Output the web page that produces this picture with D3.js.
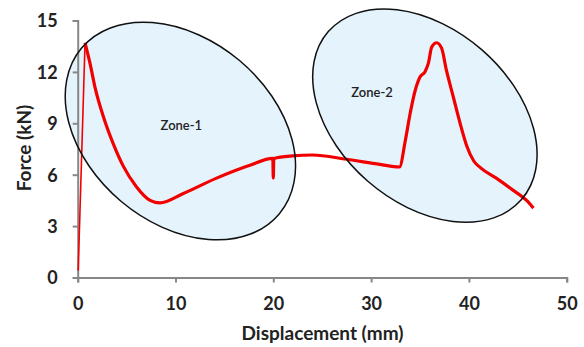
<!DOCTYPE html>
<html>
<head>
<meta charset="utf-8">
<script src="https://cdn.jsdelivr.net/npm/d3@7"></script>
<style>
  html, body { margin: 0; padding: 0; background: #fff; }
  svg text { font-family: Lato, "Open Sans", sans-serif; }
</style>
</head>
<body>
<svg id="chart" width="584" height="347"></svg>
<script>
// Load–displacement record (mm, kN)
const displacement = [0.05, 0.75, 1.26, 1.77, 2.62, 3.64, 4.66, 6.0, 7.4, 8.4, 10.8, 14.2, 17.6, 19.95, 20.0, 20.05, 22.0, 24.0, 27.5, 30.9, 32.9, 33.5, 34.0, 34.5, 35.0, 35.5, 35.85, 36.2, 36.7, 37.2, 37.7, 38.4, 39.1, 39.8, 40.5, 41.2, 42.8, 44.5, 45.9, 46.6];
const force        = [0.4, 13.7, 12.5, 11.1, 9.4, 7.8, 6.5, 5.3, 4.5, 4.35, 4.9, 5.8, 6.55, 6.95, 5.8, 6.95, 7.1, 7.15, 6.9, 6.6, 6.45, 8.0, 9.6, 10.9, 11.7, 12.0, 12.5, 13.45, 13.7, 13.4, 12.1, 10.55, 9.0, 7.65, 6.8, 6.4, 5.8, 5.1, 4.5, 4.05];

const xTicks = [0, 10, 20, 30, 40, 50];
const yTicks = [0, 3, 6, 9, 12, 15];

// Highlighted zones: centre (mm, kN), semi-axes (px), tilt (deg)
const zoneLabels = ["Zone-1", "Zone-2"];
const zoneCx = [10.5, 35.5];
const zoneCy = [8.55, 9.45];
const zoneRx = [129, 128];
const zoneRy = [92, 87];
const zoneTilt = [40, 41];
const labelX = [10.6, 30.1];
const labelY = [8.8, 10.7];

const svg = d3.select("#chart");
const x = d3.scaleLinear().domain([0, 50]).range([77.7, 566.7]);
const y = d3.scaleLinear().domain([0, 15]).range([277.5, 20.5]);

// zone fills
const zones = svg.append("g");
zoneLabels.forEach((name, i) => {
  zones.append("ellipse")
    .attr("cx", 0).attr("cy", 0)
    .attr("rx", zoneRx[i]).attr("ry", zoneRy[i])
    .attr("transform", `translate(${x(zoneCx[i])},${y(zoneCy[i])}) rotate(${zoneTilt[i]})`)
    .attr("fill", "#e5f4fc");
});

// axes
const axisColor = "#878787";
const xAxis = svg.append("g").attr("transform", `translate(0,${y(0)})`)
  .call(d3.axisBottom(x).tickValues(xTicks).tickSize(5).tickSizeOuter(5));
const yAxis = svg.append("g").attr("transform", `translate(${x(0)},0)`)
  .call(d3.axisLeft(y).tickValues(yTicks).tickSize(5).tickSizeOuter(5));
[xAxis, yAxis].forEach(g => {
  g.select(".domain").attr("stroke", axisColor).attr("stroke-width", 2);
  g.selectAll(".tick line").attr("stroke", axisColor).attr("stroke-width", 2);
  g.selectAll(".tick text")
    .attr("fill", "#222").attr("font-size", 18).attr("font-weight", "bold")
    .style("font-family", "Lato, sans-serif");
});
xAxis.selectAll(".tick text").attr("y", 32.5).attr("dy", null);
yAxis.selectAll(".tick text").attr("x", -20).attr("dy", "0.36em");

// load curve
const pts = displacement.map((d, i) => [d, force[i]]);
const line = d3.line().x(d => x(d[0])).y(d => y(d[1])).curve(d3.curveMonotoneX);
svg.append("path")
  .datum(pts.slice(0, 2))
  .attr("d", d3.line().x(d => x(d[0])).y(d => y(d[1])))
  .attr("fill", "none").attr("stroke", "#f20000").attr("stroke-width", 1.6);
svg.append("path")
  .datum(pts.slice(1))
  .attr("d", line)
  .attr("fill", "none").attr("stroke", "#f20000")
  .attr("stroke-width", 3.2).attr("stroke-linejoin", "round");

// zone outlines and labels
zoneLabels.forEach((name, i) => {
  svg.append("ellipse")
    .attr("cx", 0).attr("cy", 0)
    .attr("rx", zoneRx[i]).attr("ry", zoneRy[i])
    .attr("transform", `translate(${x(zoneCx[i])},${y(zoneCy[i])}) rotate(${zoneTilt[i]})`)
    .attr("fill", "none").attr("stroke", "#111").attr("stroke-width", 1.5);
  svg.append("text")
    .attr("x", x(labelX[i])).attr("y", y(labelY[i]))
    .attr("text-anchor", "middle").attr("dominant-baseline", "middle")
    .attr("font-size", 13).attr("font-weight", 600).attr("fill", "#222")
    .text(name);
});

// axis titles
svg.append("text")
  .attr("x", 322.5).attr("y", 340)
  .attr("text-anchor", "middle")
  .attr("font-size", 19).attr("font-weight", "bold").attr("fill", "#222")
  .text("Displacement (mm)");
svg.append("text")
  .attr("transform", "translate(31,148) rotate(-90)")
  .attr("text-anchor", "middle")
  .attr("font-size", 19).attr("font-weight", "bold").attr("fill", "#222")
  .text("Force (kN)");
</script>
</body>
</html>
